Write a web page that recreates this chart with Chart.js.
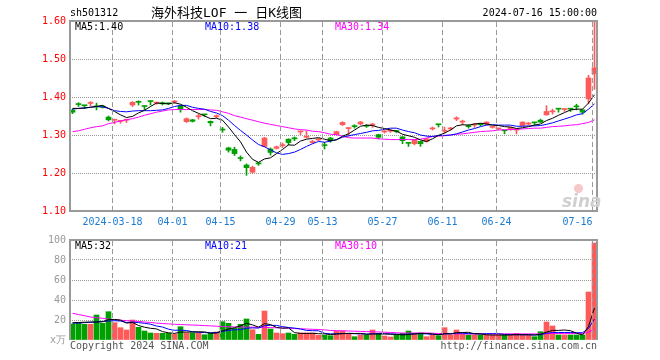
<!DOCTYPE html>
<html><head><meta charset="utf-8">
<script src="https://cdn.jsdelivr.net/npm/chart.js@4.4.1/dist/chart.umd.min.js"></script>
<style>
html,body{margin:0;padding:0;background:#fff;}
#wrap{position:relative;width:660px;height:360px;overflow:hidden;font-family:'DejaVu Sans Mono',monospace;}
canvas{position:absolute;left:0;}
#c1{top:0;}
#c2{top:230px;}
.t{position:absolute;white-space:pre;font-size:10px;line-height:12px;font-family:'DejaVu Sans Mono',monospace;}
</style></head><body>
<div id="wrap">
<canvas id="c1" width="660" height="230"></canvas>
<canvas id="c2" width="660" height="130"></canvas>
<div class="t" style="left:70px;top:7px;color:#000">sh501312</div>
<div class="t" style="left:151px;top:5px;font-size:13px;line-height:16px;font-family:'DejaVu Sans Mono','Noto Sans CJK SC',monospace;color:#000">海外科技LOF 一 日K线图</div>
<div class="t" style="right:63px;top:7px;color:#000">2024-07-16 15:00:00</div>
<div class="t" id="pm5" style="left:75px;top:21px;color:#000"></div>
<div class="t" id="pm10" style="left:205px;top:21px;color:#0000ff"></div>
<div class="t" id="pm30" style="left:335px;top:21px;color:#ff00ff"></div>
<div class="t" id="vm5" style="left:75px;top:240px;color:#000"></div>
<div class="t" id="vm10" style="left:205px;top:240px;color:#0000ff"></div>
<div class="t" id="vm30" style="left:335px;top:240px;color:#ff00ff"></div>
<div class="t" style="left:70px;top:340px;color:#555">Copyright 2024 SINA.COM</div>
<div class="t" style="right:63px;top:340px;color:#555">http://finance.sina.com.cn</div>
<div style="position:absolute;left:574px;top:184px;width:9px;height:9px;border-radius:50%;background:#f6c8c8;"></div>
<div class="t" style="left:562px;top:191px;font-size:17px;line-height:20px;font-style:italic;font-weight:bold;font-family:'DejaVu Sans',sans-serif;color:#d0d0d0">sina</div>
</div>
<script>
// ---- data ----
const tickIdx    = [7, 17, 25, 35, 42, 52, 62, 71, 87];
const tickLabels = ['2024-03-18','04-01','04-15','04-29','05-13','05-27','06-11','06-24','07-16'];
const priceTicks = [1.1, 1.2, 1.3, 1.4, 1.5, 1.6];
const volTicks   = [0, 20, 40, 60, 80, 100];

const open = [1.365,1.381,1.378,1.383,1.376,1.376,1.347,1.339,1.336,1.339,
1.379,1.387,1.376,1.389,1.384,1.385,1.383,1.387,1.377,1.335,
1.340,1.348,1.354,1.336,1.348,1.314,1.266,1.262,1.239,1.221,
1.202,1.225,1.270,1.263,1.265,1.272,1.289,1.291,1.308,1.294,
1.280,1.287,1.273,1.292,1.301,1.327,1.317,1.323,1.329,1.324,
1.326,1.301,1.308,1.310,1.310,1.295,1.279,1.277,1.283,1.283,
1.316,1.328,1.310,1.316,1.342,1.334,1.323,1.326,1.328,1.329,
1.320,1.316,1.312,1.314,1.313,1.325,1.329,1.333,1.339,1.353,
1.361,1.369,1.367,1.369,1.375,1.366,1.395,1.461];
const high = [1.368,1.385,1.378,1.388,1.384,1.378,1.350,1.341,1.338,1.341,
1.388,1.390,1.376,1.390,1.386,1.387,1.384,1.391,1.378,1.345,
1.341,1.355,1.354,1.337,1.353,1.320,1.268,1.268,1.245,1.224,
1.218,1.228,1.294,1.266,1.271,1.279,1.290,1.295,1.310,1.311,
1.286,1.291,1.281,1.294,1.310,1.335,1.319,1.327,1.336,1.327,
1.331,1.302,1.312,1.315,1.312,1.296,1.279,1.287,1.284,1.291,
1.321,1.328,1.321,1.320,1.348,1.339,1.327,1.331,1.330,1.335,
1.323,1.318,1.312,1.321,1.316,1.335,1.333,1.333,1.342,1.377,
1.368,1.369,1.369,1.369,1.381,1.367,1.457,1.597];
const low = [1.356,1.375,1.370,1.377,1.366,1.371,1.337,1.329,1.331,1.333,
1.375,1.379,1.366,1.379,1.381,1.379,1.380,1.383,1.360,1.333,
1.334,1.342,1.349,1.324,1.345,1.307,1.255,1.246,1.232,1.194,
1.200,1.220,1.269,1.247,1.263,1.267,1.274,1.285,1.301,1.292,
1.278,1.285,1.263,1.281,1.300,1.325,1.296,1.318,1.327,1.320,
1.320,1.290,1.305,1.307,1.306,1.277,1.270,1.274,1.270,1.281,
1.313,1.321,1.305,1.313,1.338,1.327,1.318,1.320,1.324,1.327,
1.318,1.314,1.303,1.313,1.303,1.324,1.327,1.327,1.333,1.352,
1.355,1.360,1.362,1.362,1.366,1.355,1.382,1.420];
const close = [1.360,1.380,1.377,1.384,1.374,1.373,1.340,1.340,1.337,1.340,
1.386,1.386,1.375,1.388,1.385,1.382,1.382,1.389,1.368,1.343,
1.336,1.349,1.353,1.332,1.349,1.313,1.260,1.251,1.238,1.214,
1.215,1.224,1.292,1.254,1.269,1.273,1.280,1.290,1.309,1.295,
1.283,1.288,1.272,1.285,1.309,1.333,1.318,1.322,1.334,1.323,
1.327,1.294,1.309,1.311,1.309,1.285,1.278,1.286,1.277,1.290,
1.317,1.327,1.312,1.317,1.345,1.335,1.322,1.327,1.327,1.334,
1.321,1.317,1.311,1.320,1.314,1.334,1.330,1.332,1.334,1.362,
1.362,1.368,1.368,1.368,1.374,1.360,1.450,1.477];
const ma5 = [1.370,1.370,1.371,1.373,1.375,1.378,1.370,1.362,1.353,1.346,
1.349,1.358,1.365,1.375,1.384,1.383,1.382,1.385,1.381,1.373,
1.364,1.357,1.350,1.343,1.344,1.339,1.321,1.301,1.282,1.255,
1.236,1.228,1.237,1.240,1.251,1.262,1.274,1.273,1.284,1.289,
1.291,1.293,1.289,1.285,1.287,1.297,1.303,1.313,1.323,1.326,
1.325,1.320,1.317,1.313,1.310,1.302,1.298,1.294,1.287,1.283,
1.290,1.299,1.305,1.313,1.324,1.327,1.326,1.329,1.331,1.329,
1.326,1.325,1.322,1.321,1.317,1.319,1.322,1.326,1.329,1.338,
1.344,1.352,1.359,1.366,1.368,1.368,1.384,1.406];
const ma10 = [1.368,1.370,1.371,1.373,1.375,1.374,1.370,1.364,1.362,1.361,
1.363,1.364,1.364,1.364,1.365,1.366,1.370,1.375,1.378,1.378,
1.373,1.370,1.368,1.362,1.358,1.351,1.339,1.325,1.312,1.300,
1.287,1.275,1.269,1.261,1.253,1.249,1.251,1.255,1.262,1.270,
1.277,1.283,1.281,1.284,1.288,1.294,1.298,1.301,1.304,1.307,
1.311,1.312,1.315,1.318,1.318,1.313,1.309,1.306,1.300,1.297,
1.296,1.299,1.299,1.300,1.303,1.308,1.313,1.317,1.322,1.326,
1.327,1.326,1.326,1.326,1.323,1.323,1.324,1.324,1.325,1.328,
1.332,1.337,1.342,1.347,1.353,1.356,1.368,1.382];
const ma30 = [1.309,1.311,1.315,1.319,1.322,1.324,1.330,1.333,1.337,1.340,
1.343,1.347,1.352,1.356,1.360,1.363,1.366,1.367,1.367,1.367,
1.367,1.367,1.367,1.366,1.365,1.361,1.357,1.351,1.347,1.343,
1.339,1.335,1.331,1.328,1.325,1.322,1.319,1.316,1.314,1.313,
1.310,1.309,1.306,1.302,1.301,1.297,1.293,1.292,1.292,1.292,
1.292,1.290,1.289,1.288,1.288,1.288,1.288,1.288,1.289,1.292,
1.296,1.297,1.298,1.300,1.302,1.303,1.305,1.307,1.309,1.310,
1.311,1.313,1.314,1.314,1.315,1.316,1.317,1.318,1.318,1.320,
1.322,1.323,1.324,1.326,1.327,1.330,1.333,1.340];
const volume = [16,17.7,15.7,15.7,25,16.7,28.3,17.3,12.3,10,
20,12.7,9,7,6.7,6.7,6.7,6,13.3,7.3,
7.3,7.3,5.3,6.7,8,18.3,16.7,11.7,15.7,21,
10.3,5.7,29,11,7,6.3,7,5.7,7,7,
7,4.7,4.7,4.3,9,9,6.7,3.3,5,5,
10,6.7,4,3,5,6.7,9,6.7,6.7,3.3,
5,4.3,12.3,5,10,6,5,5,5,5,
5,5,5,5,6.7,5,5,3.3,8.3,18,
14,5,5,5,5,5,48,97];
const vma5 = [17.3,17.5,17.8,18.0,18.0,18.2,20.3,20.6,19.9,16.9,
17.6,14.5,12.8,11.7,11.1,8.4,7.2,6.6,7.9,8.0,
8.1,8.2,8.1,6.8,6.9,9.1,11.0,12.3,14.1,16.7,
15.1,12.9,16.3,15.4,12.6,11.8,12.1,7.4,6.6,6.6,
6.7,6.3,6.1,5.5,5.9,6.3,6.7,6.5,6.6,5.8,
6.0,6.0,6.1,5.7,5.7,5.1,5.5,6.1,6.8,6.5,
6.1,5.2,6.3,6.0,7.3,7.5,7.7,6.2,6.2,5.2,
5.0,5.0,5.0,5.0,5.3,5.3,5.3,5.0,5.7,7.9,
9.6,9.6,10.0,9.3,6.8,5.0,13.6,32.0];
const vma10 = [16.7,17.0,17.3,17.7,18.0,18.5,19.0,19.3,19.0,17.5,
17.9,17.4,16.7,15.8,14.0,13.0,10.8,9.7,9.8,9.5,
8.3,7.7,7.4,7.3,7.5,8.6,9.6,10.2,10.4,11.8,
12.1,11.9,14.3,14.7,14.6,13.4,12.5,11.9,11.0,9.6,
9.3,9.2,6.7,6.1,6.3,6.5,6.5,6.3,6.1,5.9,
6.2,6.4,6.3,6.2,5.8,5.5,5.8,6.1,6.3,6.1,
5.6,5.4,6.2,6.4,6.9,6.8,6.4,6.3,6.1,6.3,
6.3,6.3,5.6,5.6,5.3,5.2,5.2,5.0,5.3,6.7,
7.5,7.5,7.5,7.5,7.3,7.3,11.6,21.0];
const vma30 = [26.7,25.5,24.3,23.0,22.3,21.7,20.9,20.3,19.8,19.3,
19.0,18.5,18.0,17.5,16.9,16.5,16.1,15.7,15.5,15.2,
15.0,14.7,14.4,14.1,13.8,13.4,13.2,13.1,13.0,12.9,
12.8,12.7,12.6,12.4,12.2,12.0,11.8,11.5,11.2,11.0,
10.7,10.5,10.2,9.5,9.3,9.2,9.0,8.8,8.6,8.4,
8.2,8.0,7.8,7.6,7.2,7.0,7.0,7.0,7.0,7.0,
6.8,6.5,6.3,6.2,6.1,6.1,6.1,6.1,6.1,6.1,
6.1,6.1,6.1,6.1,6.1,6.1,6.1,6.1,6.1,6.3,
6.5,6.5,6.4,6.4,6.4,6.4,7.8,10.7];

// ---- build ----
const FONT = "'DejaVu Sans Mono', monospace";
const UP = '#ff5a5a', DOWN = '#00a000';
const N = close.length;
const idx = close.map((_, i) => i);
const colors = idx.map(i => close[i] >= open[i] ? UP : DOWN);
const pts = arr => arr.map((v, i) => ({x: i, y: v}));
const last = a => a[a.length - 1];
const trunc2 = v => (Math.floor(v * 100 + 1e-9) / 100).toFixed(2);

document.getElementById('pm5').textContent = 'MA5:' + trunc2(last(ma5));
document.getElementById('pm10').textContent = 'MA10:' + trunc2(last(ma10));
document.getElementById('pm30').textContent = 'MA30:' + trunc2(last(ma30));
document.getElementById('vm5').textContent = 'MA5:' + Math.floor(last(vma5));
document.getElementById('vm10').textContent = 'MA10:' + Math.floor(last(vma10));
document.getElementById('vm30').textContent = 'MA30:' + Math.floor(last(vma30));

const X_MIN = -2.5 / 6, X_MAX = N - 1 + 2.5 / 6;

// dashed date grid + frame, drawn from the chart's own scales
const frame = {
  id: 'frame',
  afterDraw(chart, args, opts) {
    const {ctx, chartArea: a} = chart;
    const s = chart.scales.x;
    ctx.save();
    ctx.lineWidth = 1;
    ctx.strokeStyle = '#9a9a9a';
    ctx.setLineDash([5, 3]);
    ctx.beginPath();
    for (let i = 1; i < s.ticks.length; i++) {
      const x = Math.floor(s.getPixelForTick(i)) + 0.5;
      ctx.moveTo(x, a.top + 1);
      ctx.lineTo(x, a.bottom);
    }
    ctx.stroke();
    ctx.setLineDash([]);
    ctx.strokeStyle = '#999';
    ctx.lineWidth = 2;
    ctx.beginPath();
    const sd = opts.sides || '';
    if (sd.includes('t')) { ctx.moveTo(a.left - 1, a.top); ctx.lineTo(a.right + 1, a.top); }
    if (sd.includes('b')) { ctx.moveTo(a.left - 1, a.bottom); ctx.lineTo(a.right + 1, a.bottom); }
    if (sd.includes('l')) { ctx.moveTo(a.left, a.top); ctx.lineTo(a.left, a.bottom); }
    if (sd.includes('r')) { ctx.moveTo(a.right, a.top); ctx.lineTo(a.right, a.bottom); }
    ctx.stroke();
    ctx.restore();
  }
};

function xScale(showLabels, h) {
  return {
    type: 'linear', min: X_MIN, max: X_MAX, position: 'bottom', offset: false,
    afterBuildTicks: s => { s.ticks = [{value: X_MIN}].concat(tickIdx.map(i => ({value: i - 1 / 3}))); },
    afterFit: s => { s.height = h; },
    grid: { display: false, offset: false, drawTicks: false },
    border: { display: false },
    ticks: {
      display: showLabels, autoSkip: false, maxRotation: 0, minRotation: 0, align: 'inner', padding: 5,
      color: '#1a7ad4', font: {family: FONT, size: 10},
      callback: (v, i) => i === 0 ? '' : tickLabels[i - 1]
    }
  };
}

function yScale(ticksArr, color, fmt) {
  return {
    type: 'linear', position: 'left', min: ticksArr[0], max: ticksArr[ticksArr.length - 1],
    afterBuildTicks: s => { s.ticks = ticksArr.map(v => ({value: v})); },
    afterFit: s => { s.width = 70; },
    grid: { color: c => (c.index === 0 || c.index === ticksArr.length - 1) ? 'rgba(0,0,0,0)' : '#999', lineWidth: 1, drawTicks: false },
    border: { display: false, dash: [1, 1] },
    ticks: { color: color, padding: 4, font: {family: FONT, size: 10}, callback: fmt }
  };
}

const lineDs = (arr, color) => ({
  type: 'line', data: pts(arr), borderColor: color, borderWidth: 1, pointRadius: 0,
  tension: 0, fill: false, order: 0
});

new Chart(document.getElementById('c1'), {
  type: 'bar',
  data: {
    datasets: [
      lineDs(ma5, '#000000'),
      lineDs(ma10, '#0000ff'),
      lineDs(ma30, '#ff00ff'),
      { type: 'bar', data: idx.map(i => ({x: i, y: [low[i], high[i]]})), backgroundColor: colors,
        barThickness: 1, grouped: false, order: 2 },
      { type: 'bar', data: idx.map(i => ({x: i, y: [open[i], close[i]]})), backgroundColor: colors,
        barThickness: 5, minBarLength: 1, grouped: false, order: 1 }
    ]
  },
  options: {
    responsive: false, animation: false,
    layout: { padding: {left: 0, right: 63, top: 21, bottom: 0} },
    plugins: { legend: {display: false}, tooltip: {enabled: false}, frame: {sides: 'tblr'} },
    scales: {
      x: xScale(true, 19),
      y: yScale(priceTicks, '#ff0000', v => Number(v).toFixed(2))
    }
  },
  plugins: [frame]
});

new Chart(document.getElementById('c2'), {
  type: 'bar',
  data: {
    datasets: [
      lineDs(vma5, '#000000'),
      lineDs(vma10, '#0000ff'),
      lineDs(vma30, '#ff00ff'),
      { type: 'bar', data: pts(volume), backgroundColor: colors, barThickness: 5, grouped: false, order: 1 }
    ]
  },
  options: {
    responsive: false, animation: false,
    layout: { padding: {left: 0, right: 63, top: 10, bottom: 0} },
    plugins: { legend: {display: false}, tooltip: {enabled: false}, frame: {sides: 'tlr'} },
    scales: {
      x: xScale(false, 20),
      y: yScale(volTicks, '#999', v => v === 0 ? 'x万' : String(v))
    }
  },
  plugins: [frame]
});
</script>
</body></html>
